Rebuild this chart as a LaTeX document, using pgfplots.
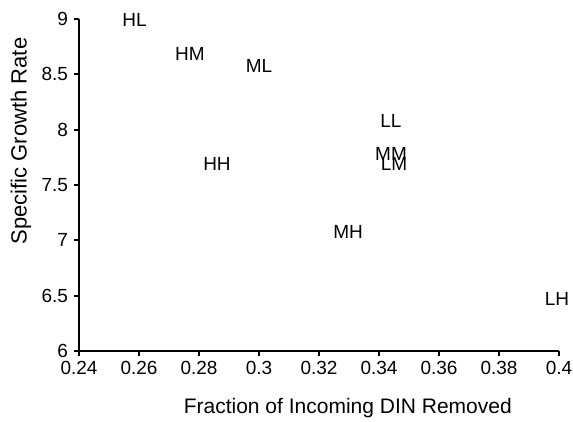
\documentclass[border=0pt]{standalone}
\usepackage{fontspec}
\setmainfont{Liberation Sans}
\usepackage{pgfplots}
\pgfplotsset{compat=1.18}
\usepackage{pgfplotstable}

% growth rate vs fraction of DIN removed, one label per treatment
\pgfplotstableread{
x      y     lab
0.2585 8.99  HL
0.2770 8.68  HM
0.3000 8.575 ML
0.2860 7.69  HH
0.3440 8.08  LL
0.3440 7.78  MM
0.3450 7.69  LM
0.3297 7.08  MH
0.3993 6.47  LH
}\growth

\begin{document}
\begin{tikzpicture}
\begin{axis}[scale only axis,width=240pt,height=166pt,
  xmin=0.24,xmax=0.4,ymin=6,ymax=9,
  xtick={0.24,0.26,...,0.41},ytick={6,6.5,...,9},
  axis x line*=bottom,axis y line*=left,
  axis line style={-,line width=0.9pt},
  tick align=outside,major tick length=2.5pt,
  tick style={line width=0.9pt,black},
  /pgf/number format/assume math mode=true,
  tick label style={font=\fontsize{9.5}{10}\selectfont},
  xticklabel style={yshift=1pt},
  yticklabel style={xshift=0.5pt},
  xlabel={Fraction of Incoming DIN Removed},
  ylabel={Specific Growth Rate},
  xlabel style={at={(axis description cs:0.56,-0.172)},anchor=center,font=\fontsize{10.5}{12}\selectfont},
  ylabel style={at={(axis description cs:-0.121,0.6325)},anchor=center,rotate=0,font=\fontsize{11}{12}\selectfont},
  clip=false]
\addplot[only marks,mark=none,nodes near coords,point meta=explicit symbolic,
  nodes near coords align={center},
  every node near coord/.append style={font=\fontsize{9.5}{11}\selectfont,inner sep=0pt}]
  table[x=x,y=y,meta=lab]{\growth};
\end{axis}
\pgfresetboundingbox
\path[use as bounding box] ([shift={(-39.5pt,-35.5pt)}]current axis.south west) rectangle ([shift={(7pt,9.5pt)}]current axis.north east);
\end{tikzpicture}
\end{document}
